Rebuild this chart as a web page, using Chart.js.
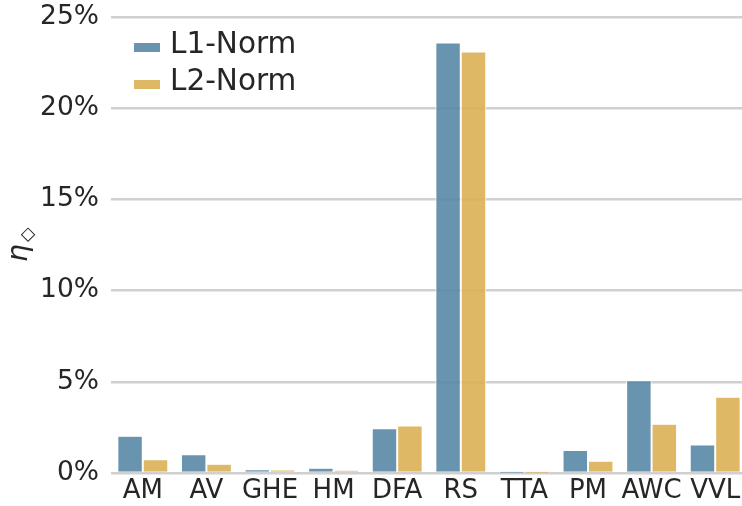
<!DOCTYPE html>
<html>
<head>
<meta charset="utf-8">
<script src="https://cdn.jsdelivr.net/npm/chart.js@4/dist/chart.umd.min.js"></script>
<style>
  html, body { margin: 0; padding: 0; background: #ffffff; overflow: hidden; }
  #wrap { width: 742px; height: 506px; overflow: hidden; }
  canvas { display: block; }
</style>
</head>
<body>
<div id="wrap"><canvas id="c" width="747" height="506"></canvas></div>
<script>
// Relative error per measure (percent)
const categories = ['AM', 'AV', 'GHE', 'HM', 'DFA', 'RS', 'TTA', 'PM', 'AWC', 'VVL'];
const l1Norm = [2.01, 1.00, 0.18, 0.26, 2.43, 23.57, 0.02, 1.24, 5.06, 1.53];
const l2Norm = [0.73, 0.48, 0.16, 0.15, 2.58, 23.08, 0.01, 0.64, 2.67, 4.15];
const seriesNames = ['L1-Norm', 'L2-Norm'];
const yTickValues = [0, 5, 10, 15, 20, 25];

const BLUE = 'rgba(89, 136, 167, 0.9)';
const GOLD = 'rgba(218, 176, 83, 0.9)';
const INK = '#262626';
const FONT = '"DejaVu Sans", sans-serif';

// Axis title: italic eta with a diamond subscript, rotated
const yTitlePlugin = {
  id: 'yTitle',
  afterDraw(chart) {
    const ctx = chart.ctx;
    const cy = (chart.chartArea.top + chart.chartArea.bottom) / 2;
    ctx.save();
    ctx.translate(27, cy + 17);
    ctx.rotate(-Math.PI / 2);
    ctx.fillStyle = INK;
    ctx.textAlign = 'left';
    ctx.textBaseline = 'alphabetic';
    ctx.font = 'italic 28px ' + FONT;
    ctx.fillText('η', 0, 0);
    ctx.font = '19px ' + FONT;
    ctx.fillText('◇', 20, 6);
    ctx.restore();
  }
};

// Legend drawn inside the plot area, top-left
const innerLegendPlugin = {
  id: 'innerLegend',
  afterDraw(chart) {
    const ctx = chart.ctx;
    ctx.save();
    chart.data.datasets.forEach((ds, i) => {
      const baseY = 53 + i * 37;
      ctx.fillStyle = ds.backgroundColor;
      ctx.fillRect(134, baseY - 10, 26, 9);
      ctx.fillStyle = INK;
      ctx.font = '29.5px ' + FONT;
      ctx.textAlign = 'left';
      ctx.textBaseline = 'alphabetic';
      ctx.fillText(ds.label, 170, baseY);
    });
    ctx.restore();
  }
};

new Chart(document.getElementById('c'), {
  type: 'bar',
  data: {
    labels: categories,
    datasets: [
      { label: seriesNames[0], data: l1Norm, backgroundColor: BLUE },
      { label: seriesNames[1], data: l2Norm, backgroundColor: GOLD }
    ]
  },
  options: {
    responsive: false,
    animation: false,
    layout: { padding: { top: 17, right: 0, bottom: 0, left: 0 } },
    datasets: {
      bar: {
        categoryPercentage: 0.8,
        barPercentage: 1.0,
        borderColor: '#ffffff',
        borderWidth: { top: 0.5, left: 1, right: 1, bottom: 0 },
        borderSkipped: 'start'
      }
    },
    plugins: {
      legend: { display: false },
      tooltip: { enabled: false }
    },
    scales: {
      x: {
        offset: true,
        grid: { display: false, drawTicks: false },
        border: { display: false },
        ticks: { color: INK, font: { family: FONT, size: 26 }, padding: 3, maxRotation: 0, autoSkip: false },
        afterFit(scale) { scale.height = 33; }
      },
      y: {
        min: 0,
        max: 25,
        afterBuildTicks(scale) { scale.ticks = yTickValues.map(v => ({ value: v })); },
        grid: { color: '#d0d0d0', lineWidth: 2.5, drawTicks: true, tickLength: 12, tickColor: 'rgba(0,0,0,0)' },
        border: { display: false },
        ticks: {
          color: INK,
          font: { family: FONT, size: 26.5 },
          padding: 0,
          callback: v => v + '%'
        },
        afterFit(scale) { scale.width = 111; }
      }
    }
  },
  plugins: [yTitlePlugin, innerLegendPlugin]
});
</script>
</body>
</html>
